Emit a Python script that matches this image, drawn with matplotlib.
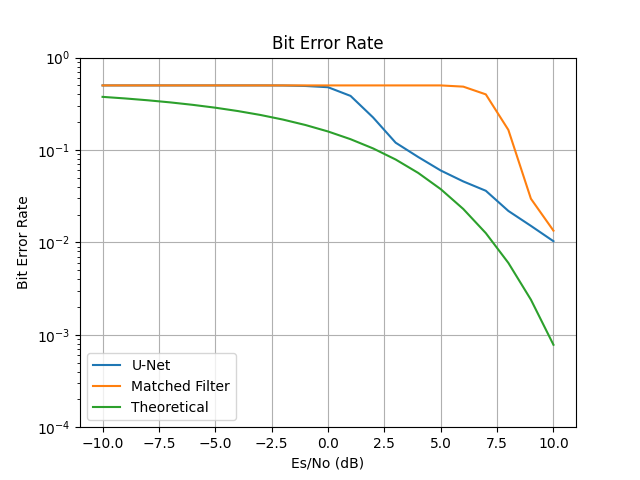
import matplotlib
matplotlib.use("Agg")
import matplotlib.pyplot as plt

snr_db = [-10, -9, -8, -7, -6, -5, -4, -3, -2, -1, 0, 1, 2, 3, 4, 5, 6, 7, 8, 9, 10]
ber_unet = [0.5, 0.5, 0.5, 0.5, 0.5, 0.5, 0.5, 0.5, 0.499, 0.493, 0.478, 0.385, 0.225,
            0.12, 0.084, 0.060, 0.0457, 0.0362, 0.0219, 0.0151, 0.0103]
ber_mf = [0.5, 0.5, 0.5, 0.5, 0.5, 0.5, 0.5, 0.5, 0.5, 0.5, 0.5, 0.5, 0.5,
          0.5, 0.5, 0.5, 0.485, 0.40, 0.165, 0.0297, 0.0134]
ber_theory = [0.3759, 0.3614, 0.3453, 0.3276, 0.3081, 0.2870, 0.2640, 0.2395, 0.2135,
              0.1864, 0.1587, 0.1309, 0.1040, 0.0789, 0.0565, 0.0377, 0.0230, 0.0126,
              0.0060, 0.0024, 0.00078]

fig, ax = plt.subplots(figsize=(6.4, 4.8), dpi=100)
ax.semilogy(snr_db, ber_unet, label="U-Net")
ax.semilogy(snr_db, ber_mf, label="Matched Filter")
ax.semilogy(snr_db, ber_theory, label="Theoretical")
ax.set_ylim(1e-4, 1)
ax.grid(True)
ax.set_xlabel("Es/No (dB)")
ax.set_ylabel("Bit Error Rate")
ax.set_title("Bit Error Rate")
ax.legend(loc="lower left")
fig.savefig("out.png")
